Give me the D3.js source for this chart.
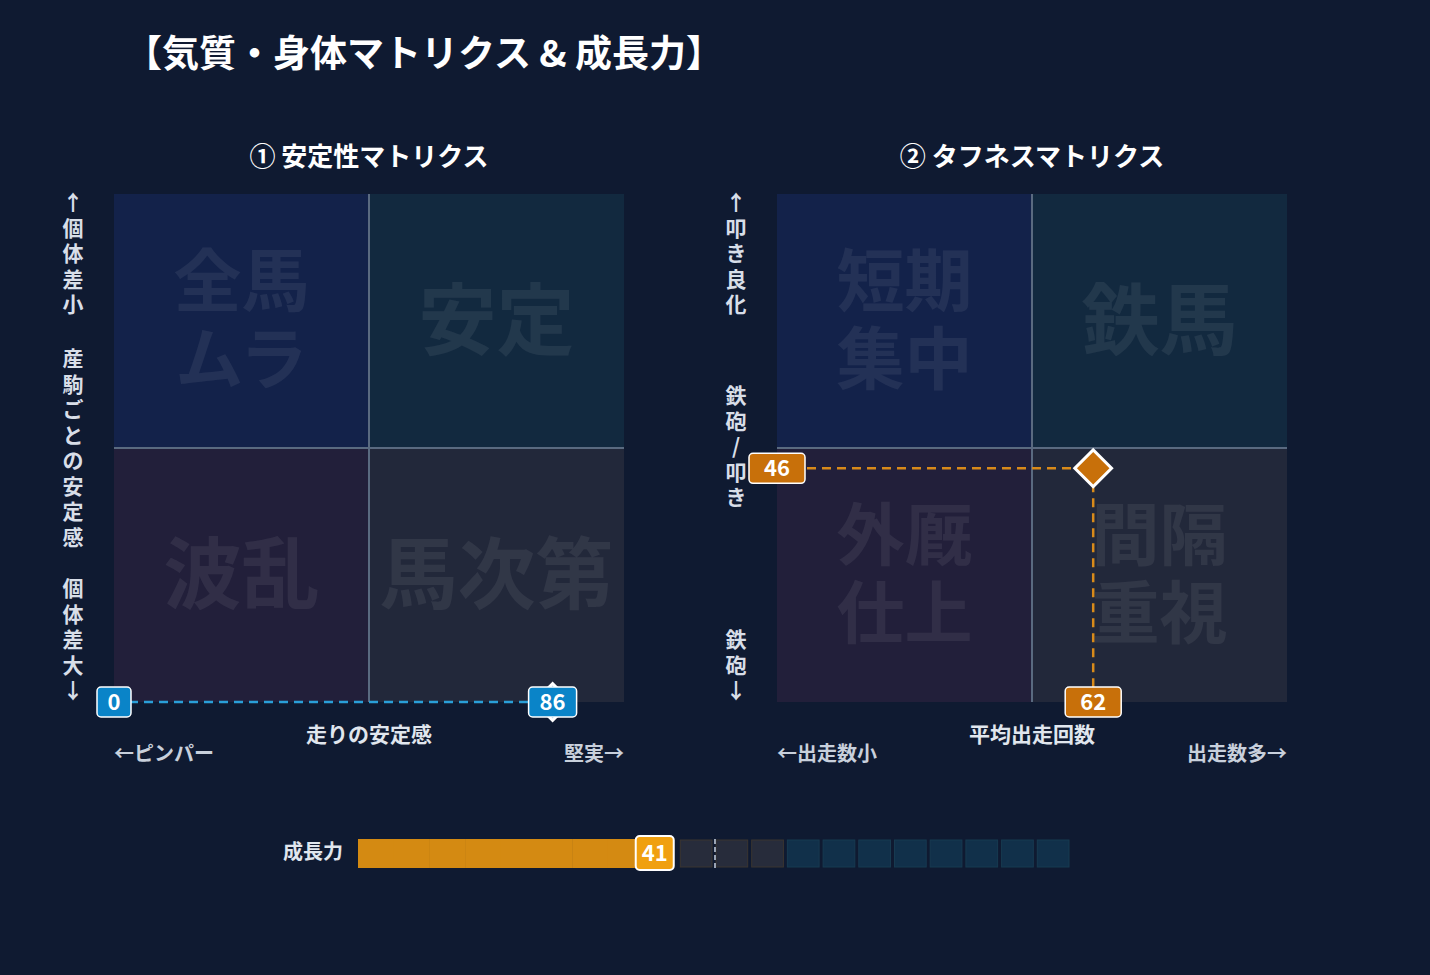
<!DOCTYPE html><html><head><meta charset="utf-8"><script src="https://cdn.jsdelivr.net/npm/d3@7"></script>
<style>body{margin:0;background:#0f1a31;}text{font-family:"Noto Sans CJK JP","Noto Sans",sans-serif;}</style></head><body>
<svg id="c" width="1430" height="975"></svg>
<script>
const title="【気質・身体マトリクス & 成長力】";
const matrixTitles=["① 安定性マトリクス","② タフネスマトリクス"];
const quadLabels=[["全馬\nムラ","安定","波乱","馬次第"],["短期\n集中","鉄馬","外厩\n仕上","間隔\n重視"]];
const xAxisTitles=["走りの安定感","平均出走回数"];
const xLeftLabels=["←ピンパー","←出走数小"];
const xRightLabels=["堅実→","出走数多→"];
const yTop=[["↑","個","体","差","小"],["↑","叩","き","良","化"]];
const yMid=[["産","駒","ご","と","の","安","定","感"],["鉄","砲","/","叩","き"]];
const yBot=[["個","体","差","大","↓"],["鉄","砲","↓"]];
const pointsX=[86,62];
const pointsY=[0,46];
const growth=41;
const growthLabel="成長力";

(function(){
const svg=d3.select("#c");
svg.append("rect").attr("width",1430).attr("height",975).attr("fill","#0f1a31");
svg.append("text").attr("x",125).attr("y",67).attr("fill","#fff").attr("font-size",37).attr("font-weight",700).text(title);
const quadFill=["#13224a","#12293f","#221f3a","#22283a"];
const lefts=[114,777], T0=194, W=510, H=508;
const accents=[{c:"#0a84c8",line:"#2a9fd8"},{c:"#c8700a",line:"#d88a1a"}];
lefts.forEach((L,m)=>{
  const x=d3.scaleLinear().domain([0,100]).range([L,L+W]);
  const y=d3.scaleLinear().domain([0,100]).range([T0+H,T0]);
  const g=svg.append("g");
  g.append("text").attr("x",L+W/2).attr("y",166).attr("text-anchor","middle").attr("fill","#fff").attr("font-size",26).attr("font-weight",700).text(matrixTitles[m]);
  const qs=[[0,50],[50,50],[0,0],[50,0]];
  qs.forEach((q,i)=>{
    g.append("rect").attr("x",x(q[0])).attr("y",y(q[1]+50)).attr("width",x(50)-x(0)).attr("height",y(0)-y(50)).attr("fill",quadFill[i]);
    const lines=quadLabels[m][i].split("\n");
    const cx=x(q[0]+25), cy=y(q[1]+25);
    const fs=lines.length>1?68:78;
    lines.forEach((t,j)=>{
      g.append("text").attr("x",cx).attr("y",cy+(j-(lines.length-1)/2)*78+fs*0.36).attr("text-anchor","middle")
       .attr("fill","#ffffff").attr("fill-opacity",0.07).attr("font-size",fs).attr("font-weight",700).text(t);
    });
  });
  g.append("line").attr("x1",x(50)).attr("x2",x(50)).attr("y1",y(0)).attr("y2",y(100)).attr("stroke","#5a6a80").attr("stroke-width",2);
  g.append("line").attr("x1",x(0)).attr("x2",x(100)).attr("y1",y(50)).attr("y2",y(50)).attr("stroke","#5a6a80").attr("stroke-width",2);
  g.append("text").attr("x",x(50)).attr("y",742).attr("text-anchor","middle").attr("fill","#e0e6ee").attr("font-size",21).attr("font-weight",700).text(xAxisTitles[m]);
  g.append("text").attr("x",L).attr("y",761).attr("fill","#c8d0dc").attr("font-size",20).attr("font-weight",700).text(xLeftLabels[m]);
  g.append("text").attr("x",L+W).attr("y",761).attr("text-anchor","end").attr("fill","#c8d0dc").attr("font-size",20).attr("font-weight",700).text(xRightLabels[m]);
  const vx=L-41;
  const col=(arr,y0,fs)=>arr.forEach((ch,i)=>g.append("text").attr("x",vx).attr("y",y0+i*25.5).attr("text-anchor","middle").attr("fill","#d8dee8").attr("font-size",fs).attr("font-weight",700).text(ch));
  col(yTop[m],210,21);
  col(yMid[m],m==0?366:403,21);
  col(yBot[m],m==0?596:647,21);
  const px=x(pointsX[m]), py=y(pointsY[m]);
  const a=accents[m];
  g.append("line").attr("x1",x(0)).attr("x2",px).attr("y1",py).attr("y2",py).attr("stroke",a.line).attr("stroke-width",2.5).attr("stroke-dasharray","9,6");
  g.append("line").attr("x1",px).attr("x2",px).attr("y1",py).attr("y2",y(0)).attr("stroke",a.line).attr("stroke-width",2.5).attr("stroke-dasharray","9,6");
  g.append("rect").attr("x",px-13).attr("y",py-13).attr("width",26).attr("height",26).attr("transform",`rotate(45,${px},${py})`).attr("fill",a.c).attr("stroke","#fff").attr("stroke-width",3);
  const lab=(cx,cy,t,w)=>{g.append("rect").attr("x",cx-w/2).attr("y",cy-15).attr("width",w).attr("height",30).attr("rx",4).attr("fill",a.c).attr("stroke","#fff").attr("stroke-width",1.5);
    g.append("text").attr("x",cx).attr("y",cy+8).attr("text-anchor","middle").attr("fill","#fff").attr("font-size",22).attr("font-weight",700).text(t);};
  lab(x(0),py,pointsY[m],m==0?34:56);
  lab(px,y(0),pointsX[m],m==0?48:56);
});
const gx=d3.scaleLinear().domain([0,100]).range([358,1072]);
const gy=839,gh=29;
svg.append("text").attr("x",343).attr("y",859).attr("text-anchor","end").attr("fill","#e0e6ee").attr("font-size",20).attr("font-weight",700).text(growthLabel);
d3.range(0,100,5).forEach(v=>{
  if(v<growth){
    svg.append("rect").attr("x",gx(v)).attr("y",gy).attr("width",gx(Math.min(v+5,growth))-gx(v)+0.5).attr("height",gh).attr("fill","#d48a12");
  } else {
    svg.append("rect").attr("x",gx(v)+1).attr("y",gy+1).attr("width",gx(5)-gx(0)-4).attr("height",gh-2)
      .attr("fill",v<60?"#272c3b":"#11304a").attr("stroke",v<60?"#3a3530":"#173a50").attr("stroke-width",1);
  }
});
svg.append("line").attr("x1",gx(50)).attr("x2",gx(50)).attr("y1",gy).attr("y2",gy+gh).attr("stroke","#9aa4b4").attr("stroke-width",2).attr("stroke-dasharray","5,3");
const lx=gx(growth)+4;
svg.append("rect").attr("x",lx-19).attr("y",gy-3).attr("width",38).attr("height",34).attr("rx",4).attr("fill","#f0a010").attr("stroke","#fff").attr("stroke-width",2);
svg.append("text").attr("x",lx).attr("y",gy+22).attr("text-anchor","middle").attr("fill","#fff").attr("font-size",22).attr("font-weight",700).text(growth);
})();
</script></body></html>
